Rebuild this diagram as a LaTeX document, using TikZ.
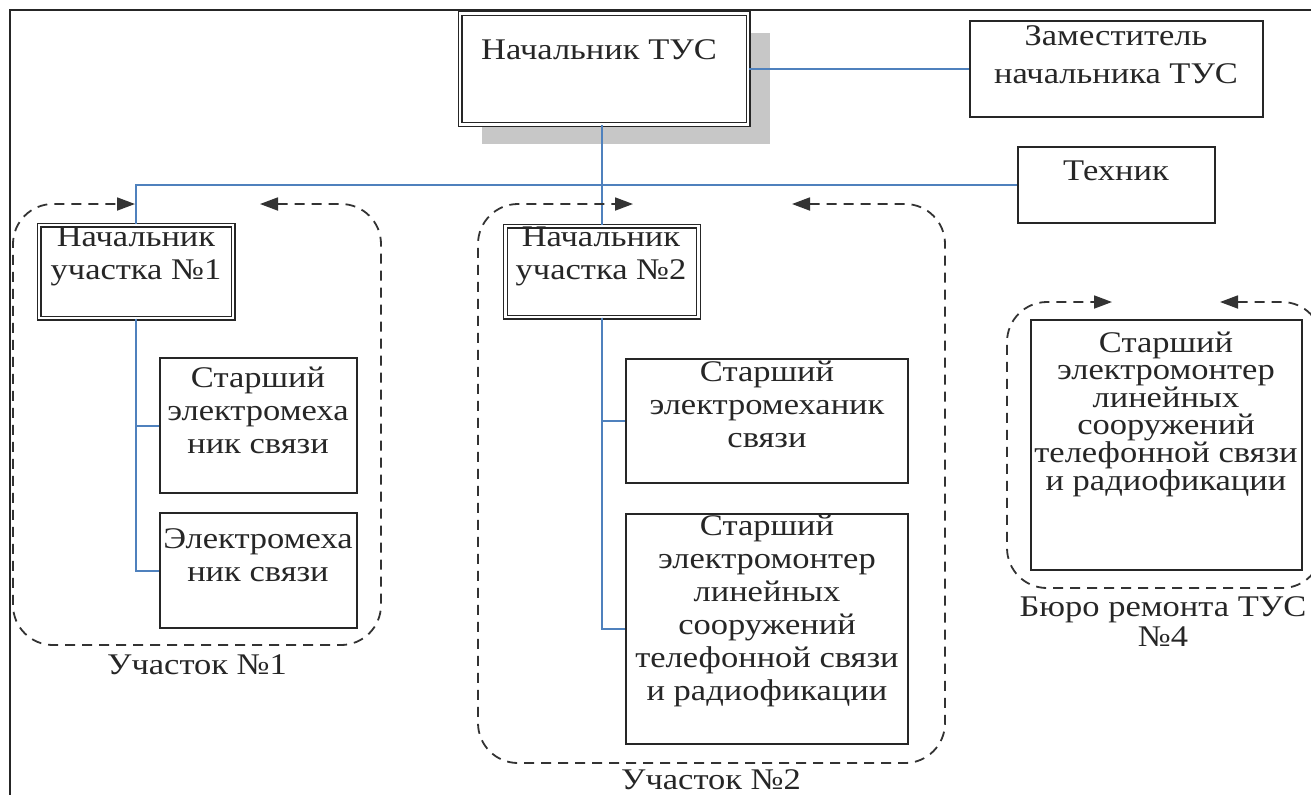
\documentclass[tikz,border=0pt]{standalone}
\usepackage{fontspec}
\setmainfont{Liberation Serif}[FakeStretch=1.15]
\usetikzlibrary{arrows.meta,shadows}
\definecolor{linkblue}{RGB}{79,129,189}

\tikzset{
  post/.style={draw=black!85, line width=.9pt, inner sep=0pt, fill=white},
  chief/.style={post, line width=.65pt, double=white, double distance=1.2pt},
  txt/.style={font=\fontsize{15pt}{16.5pt}\selectfont, align=center, inner sep=0pt, text=black!85},
  link/.style={draw=linkblue, line width=1pt},
  group/.style={draw=black!80, line width=.9pt, dash pattern=on 5pt off 3.5pt,
    rounded corners=20pt, >={Triangle[length=9pt,width=6.5pt]}, <->}
}

\begin{document}
\begin{tikzpicture}[x=.5pt, y=-.5pt]
  \useasboundingbox (0,0) rectangle (1311,794);
  \draw[line width=1pt, black!85] (10,10) rectangle (1340,820);

  \node[chief, minimum width=144pt, minimum height=55.5pt,
    drop shadow={shadow xshift=11pt, shadow yshift=-9.5pt, fill=black!22, opacity=1}] (M) at (604,69) {};
  \node[post, minimum width=146.5pt, minimum height=48pt] (Z) at (1116.5,69) {};
  \node[post, minimum width=98.5pt, minimum height=38pt] (T) at (1116.5,185) {};
  \node[chief, minimum width=97pt, minimum height=46.5pt] (N1) at (136,271.5) {};
  \node[chief, minimum width=96.5pt, minimum height=45.5pt] (N2) at (602,271.5) {};
  \node[post, minimum width=98.5pt, minimum height=67.5pt] (S1) at (258.5,425.5) {};
  \node[post, minimum width=98.5pt, minimum height=57.5pt] (E1) at (258.5,570.5) {};
  \node[post, minimum width=141pt, minimum height=62pt] (S2) at (767,421) {};
  \node[post, minimum width=141pt, minimum height=115pt] (M2) at (767,629) {};
  \node[post, minimum width=135.5pt, minimum height=125pt] (R4) at (1166.5,445) {};

  \node[txt] (M-t) at (599,50) {Начальник ТУС};
  \node[txt, font=\fontsize{15pt}{19pt}\selectfont] (Z-t) at (1116,55) {Заместитель\\начальника ТУС};
  \node[txt] (T-t) at (1116,171) {Техник};
  \node[txt] (N1-t) at (136,256) {Начальник\\участка №1};
  \node[txt] (N2-t) at (601,256) {Начальник\\участка №2};
  \node[txt] (S1-t) at (258,410) {Старший\\электромеха\\ник связи};
  \node[txt] (E1-t) at (258,555) {Электромеха\\ник связи};
  \node[txt] (S2-t) at (767,404) {Старший\\электромеханик\\связи};
  \node[txt] (M2-t) at (767,611) {Старший\\электромонтер\\линейных\\сооружений\\телефонной связи\\и радиофикации};
  \node[txt, font=\fontsize{15pt}{13.8pt}\selectfont] (R4-t) at (1166,414) {Старший\\электромонтер\\линейных\\сооружений\\телефонной связи\\и радиофикации};

  \node[txt] (L1) at (197,665) {Участок №1};
  \node[txt] (L2) at (711,780) {Участок №2};
  \node[txt, font=\fontsize{15pt}{15pt}\selectfont] (L4) at (1163,622) {Бюро ремонта ТУС\\№4};

  \draw[link] (M.east) -- (M.east -| Z.west);
  \draw[link] (N2.north) -- (N2.north |- M.south);
  \draw[link] (N1.north) |- (T.west);
  \draw[link] (N1.south) |- (S1.west);
  \draw[link] (N1.south) |- (E1.west);
  \draw[link] (N2.south) |- (S2.west);
  \draw[link] (N2.south) |- (M2.west);

  \draw[group] (260,204) -- (381,204) -- (381,645) -- (13,645) -- (13,204) -- (135,204);
  \draw[group] (792,204) -- (945,204) -- (945,763) -- (478,763) -- (478,204) -- (633,204);
  \draw[group] (1220,302) -- (1322,302) -- (1322,588) -- (1007,588) -- (1007,302) -- (1112,302);
\end{tikzpicture}
\end{document}
